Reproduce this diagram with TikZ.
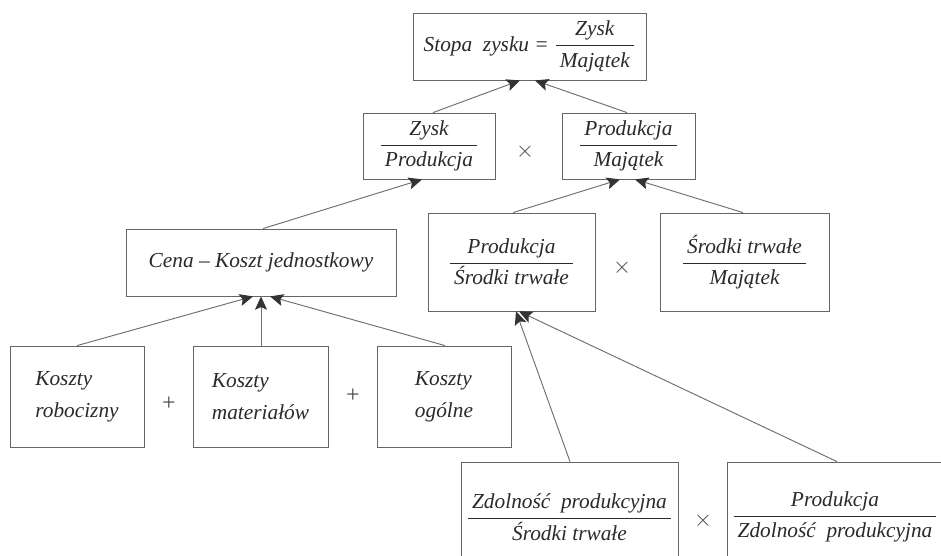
\documentclass[tikz,border=0pt]{standalone}
\usepackage{amsmath}
\usepackage{fontspec}
\setmainfont{Liberation Serif}
\usetikzlibrary{arrows.meta,calc}
\definecolor{txt}{HTML}{2A2A2A}
\definecolor{boxgray}{HTML}{666666}
\definecolor{linegray}{HTML}{6E6E6E}
\definecolor{tipc}{HTML}{333333}
\newcommand{\fracbox}[2]{$\displaystyle\frac{\kern3pt\mbox{\itshape #1}\kern3pt}{\kern3pt\mbox{\itshape #2}\kern3pt}$}
\begin{document}
\begin{tikzpicture}[x=0.75pt,y=-0.75pt,
  box/.style={draw=boxgray, line width=0.6pt, inner sep=0pt, text=txt,
    font=\fontsize{16}{24}\selectfont\itshape},
  conn/.style={draw=linegray, line width=0.7pt,
    -{Stealth[length=10pt,width=9pt,inset=2pt,color=tipc]}},
  sym/.style={text=txt!85, font=\fontsize{18}{20}\selectfont, inner sep=0pt}]
\useasboundingbox (0,0) rectangle (941,556);
\fill[white] (0,0) rectangle (941,556);
\clip (0,0) rectangle (941,556);

\node[box, minimum width=174.75pt, minimum height=50.25pt] (top) at (529.5,46.5)
  {\textit{Stopa\ \ zysku} = \fracbox{Zysk}{Majątek}};
\node[box, minimum width=99pt, minimum height=49.5pt] (zp) at (429,146)
  {\fracbox{Zysk}{Produkcja}};
\node[box, minimum width=99.75pt, minimum height=49.5pt] (pm) at (628.5,146)
  {\fracbox{Produkcja}{Majątek}};
\node[sym] (x1) at (525,152) {$\times$};

\node[box, minimum width=202.5pt, minimum height=50.25pt] (cena) at (261,262.5)
  {Cena -- Koszt jednostkowy};
\node[box, minimum width=125.25pt, minimum height=73.5pt] (ps) at (511.5,262)
  {\fracbox{Produkcja}{Środki trwałe}};
\node[box, minimum width=126.75pt, minimum height=73.5pt] (sm) at (744.5,262)
  {\fracbox{Środki trwałe}{Majątek}};
\node[sym] (x2) at (622,268) {$\times$};

\node[box, align=left, minimum width=100.5pt, minimum height=75.75pt] (kr) at (77,396.5)
  {Koszty\\robocizny};
\node[box, align=left, minimum width=101.25pt, minimum height=75.75pt] (km) at (260.5,396.5)
  {Koszty\\materiałów};
\node[box, align=left, minimum width=100.5pt, minimum height=75.75pt] (ko) at (444,396.5)
  {Koszty\\ogólne};
\node[sym] (p1) at (169,404) {+};
\node[sym] (p2) at (353,396) {+};

\node[box, minimum width=162.75pt, minimum height=82.5pt] (zs) at (569.5,517)
  {\fracbox{Zdolność\ \ produkcyjna}{Środki trwałe}};
\node[box, minimum width=162pt, minimum height=82.5pt] (pz) at (835,517)
  {\fracbox{Produkcja}{Zdolność\ \ produkcyjna}};
\node[sym] (x3) at (703,521) {$\times$};

\draw[conn] ($(zp.north)+(4,0)$) -- ($(top.south)+(-9.5,0)$);
\draw[conn] ($(pm.north)+(-1.5,0)$) -- ($(top.south)+(5.5,0)$);
\draw[conn] ($(cena.north)+(2,0)$) -- ($(zp.south)+(-7,0)$);
\draw[conn] ($(ps.north)+(1.5,0)$) -- ($(pm.south)+(-8.5,0)$);
\draw[conn] ($(sm.north)+(-1.5,0)$) -- ($(pm.south)+(6.5,0)$);
\draw[conn] (kr.north) -- ($(cena.south)+(-8,0)$);
\draw[conn] ($(km.north)+(0.5,0)$) -- (cena.south);
\draw[conn] ($(ko.north)+(1,0)$) -- ($(cena.south)+(9,0)$);
\draw[conn] ($(zs.north)+(0.5,0)$) -- ($(ps.south)+(4.5,0)$);
\draw[conn] ($(pz.north)+(2,0)$) -- ($(ps.south)+(7.5,0)$);
\end{tikzpicture}
\end{document}
